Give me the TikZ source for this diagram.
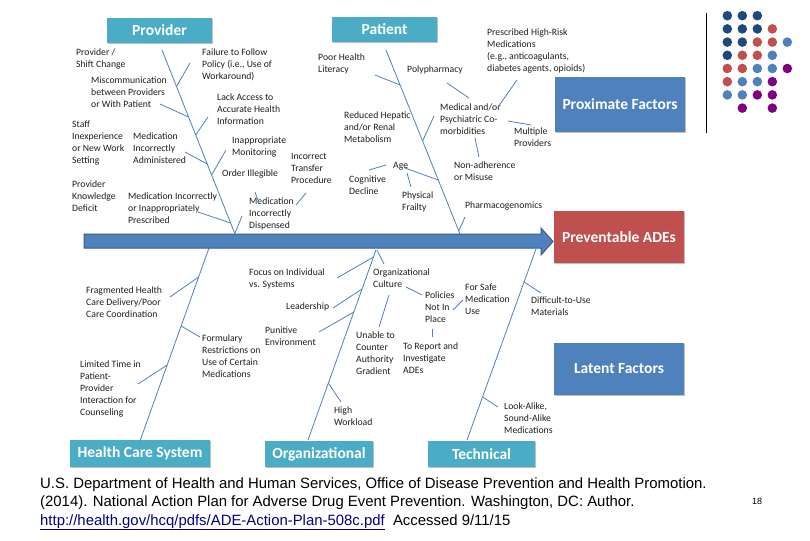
\documentclass[tikz,border=0pt]{standalone}
\usepackage{fontspec}
\setmainfont{Carlito}
\newfontfamily\footfont{Liberation Sans}
\usetikzlibrary{shadows}
\definecolor{teal1}{RGB}{75,172,198}
\definecolor{blue1}{RGB}{79,129,189}
\definecolor{red1}{RGB}{192,80,77}
\definecolor{dblue}{RGB}{31,73,125}
\definecolor{purp}{RGB}{128,0,128}
\definecolor{arrowline}{RGB}{56,93,138}
\definecolor{linkblue}{RGB}{0,0,128}
\definecolor{txt}{RGB}{30,30,30}
\begin{document}
\begin{tikzpicture}[x=1pt,y=-1pt,
 lbl/.style={anchor=north west, inner sep=0pt, align=left, font=\fontsize{9.7}{11.8}\selectfont, text=txt},
 bone/.style={draw=blue1, line width=0.8pt},
 titlebox/.style={inner sep=0pt, text=white, font=\bfseries\fontsize{15.5}{18}\selectfont,
   drop shadow={shadow xshift=1.2pt, shadow yshift=-1.2pt, fill=black, opacity=0.25}},
 foot/.style={anchor=base west, inner sep=0pt, font=\footfont\fontsize{14.9}{18}\selectfont, text=black}
]
\fill[white] (0,0) rectangle (810,540);
\useasboundingbox (0,0) rectangle (810,540);

% title boxes
\node[titlebox, fill=teal1, minimum width=105pt, minimum height=25pt] (provider) at (159.5,30.5) {Provider};
\node[titlebox, fill=teal1, minimum width=105pt, minimum height=25pt] (patient) at (384.5,29.5) {Patient};
\node[titlebox, fill=blue1, minimum width=130pt, minimum height=55pt] (proximate) at (620,104.5) {Proximate Factors};
\node[titlebox, fill=red1, minimum width=130pt, minimum height=52pt] (ades) at (619,237) {Preventable ADEs};
\node[titlebox, fill=blue1, minimum width=130pt, minimum height=52pt] (latent) at (619,369) {Latent Factors};
\node[titlebox, fill=teal1, minimum width=140pt, minimum height=27pt] (hcs) at (140,453.5) {Health Care System};
\node[titlebox, fill=teal1, minimum width=108pt, minimum height=26pt] (org) at (319,454) {Organizational};
\node[titlebox, fill=teal1, minimum width=107pt, minimum height=26pt] (tech) at (481.5,454) {Technical};

% labels - provider
\node[lbl] (p1) at (76,49) {Provider /\\Shift Change};
\node[lbl] (p2) at (202,49) {Failure to Follow\\Policy (i.e., Use of\\Workaround)};
\node[lbl] (p3) at (91,77) {Miscommunication\\between Providers\\or With Patient};
\node[lbl] (p4) at (217,94) {Lack Access to\\Accurate Health\\Information};
\node[lbl] (p5) at (72,121) {Staff\\Inexperience\\or New Work\\Setting};
\node[lbl] (p6) at (133,133) {Medication\\Incorrectly\\Administered};
\node[lbl] (p7) at (232,137) {Inappropriate\\Monitoring};
\node[lbl] (p8) at (291,153) {Incorrect\\Transfer\\Procedure};
\node[lbl] (p9) at (222,170) {Order Illegible};
\node[lbl] (p10) at (72,181) {Provider\\Knowledge\\Deficit};
\node[lbl] (p11) at (128,193) {Medication Incorrectly\\or Inappropriately\\Prescribed};
\node[lbl] (p12) at (249,198) {Medication\\Incorrectly\\Dispensed};
% labels - patient
\node[lbl] (q1) at (318,54) {Poor Health\\Literacy};
\node[lbl] (q2) at (407,66) {Polypharmacy};
\node[lbl] (q3) at (487,29) {Prescribed High-Risk\\Medications\\(e.g., anticoagulants,\\diabetes agents, opioids)};
\node[lbl] (q4) at (440,104) {Medical and/or\\Psychiatric Co-\\morbidities};
\node[lbl] (q5) at (514,128) {Multiple\\Providers};
\node[lbl] (q6) at (344,112) {Reduced Hepatic\\and/or Renal\\Metabolism};
\node[lbl] (q7) at (393,162) {Age};
\node[lbl] (q8) at (454,162) {Non-adherence\\or Misuse};
\node[lbl] (q9) at (349,176) {Cognitive\\Decline};
\node[lbl] (q10) at (402,192) {Physical\\Frailty};
\node[lbl] (q11) at (465,202) {Pharmacogenomics};
% labels - bottom
\node[lbl] (h1) at (86,287) {Fragmented Health\\Care Delivery/Poor\\Care Coordination};
\node[lbl] (h2) at (202,335) {Formulary\\Restrictions on\\Use of Certain\\Medications};
\node[lbl] (h3) at (80,361) {Limited Time in\\Patient-\\Provider\\Interaction for\\Counseling};
\node[lbl] (o1) at (249,269) {Focus on Individual\\vs. Systems};
\node[lbl] (o2) at (286,303) {Leadership};
\node[lbl] (o3) at (265,327) {Punitive\\Environment};
\node[lbl] (o4) at (373,269) {Organizational\\Culture};
\node[lbl] (o5) at (425,292) {Policies\\Not In\\Place};
\node[lbl] (o6) at (465,284) {For Safe\\Medication\\Use};
\node[lbl] (o7) at (356,332) {Unable to\\Counter\\Authority\\Gradient};
\node[lbl] (o8) at (403,343) {To Report and\\Investigate\\ADEs};
\node[lbl] (o9) at (334,407) {High\\Workload};
\node[lbl] (t1) at (531,297) {Difficult-to-Use\\Materials};
\node[lbl] (t2) at (504,403) {Look-Alike,\\Sound-Alike\\Medications};

% bones
\coordinate (PvT) at (162,50); \coordinate (PvB) at (235,234);
\coordinate (PaT) at (386,50); \coordinate (PaB) at (460,234);
\coordinate (HcT) at (209,248); \coordinate (HcB) at (140,441);
\coordinate (OrT) at (376,250); \coordinate (OrB) at (308,440);
\coordinate (TeT) at (536,249); \coordinate (TeB) at (467,440);
\draw[bone] (PvT) -- (PvB);
\draw[bone] (PaT) -- (PaB);
\draw[bone] (HcT) -- (HcB);
\draw[bone] (OrT) -- (OrB);
\draw[bone] (TeT) -- (TeB);

% branches - provider
\coordinate (b1a) at (176.5,86.5); \coordinate (b1b) at (190,63);
\coordinate (b2a) at (160,104); \coordinate (b2b) at (188.6,117);
\coordinate (b3a) at (195.7,135); \coordinate (b3b) at (208,117);
\coordinate (b4a) at (185,152); \coordinate (b4b) at (207.3,164);
\coordinate (b5a) at (211.6,175); \coordinate (b5b) at (226,150);
\coordinate (b6a) at (198,212); \coordinate (b6b) at (230.7,223);
\coordinate (b7a) at (235,233); \coordinate (b7b) at (242,216);
\coordinate (b8a) at (255,192); \coordinate (b8b) at (259,203);
\coordinate (b9a) at (296,205); \coordinate (b9b) at (306,193);
\foreach \n in {b1,b2,b3,b4,b5,b6,b7,b8,b9} \draw[bone] (\n a) -- (\n b);
% branches - patient
\coordinate (c1a) at (375,75); \coordinate (c1b) at (400.1,85);
\coordinate (c2a) at (447,83); \coordinate (c2b) at (469,98);
\coordinate (c3a) at (498,107); \coordinate (c3b) at (517,80);
\coordinate (c4a) at (508,121); \coordinate (c4b) at (531,125);
\coordinate (c5a) at (422.6,141); \coordinate (c5b) at (434,116);
\coordinate (c6a) at (475,138); \coordinate (c6b) at (479,157);
\coordinate (c7a) at (405,168); \coordinate (c7b) at (438.2,180);
\coordinate (c8a) at (369,170); \coordinate (c8b) at (386,165);
\coordinate (c9a) at (407,173); \coordinate (c9b) at (411,187);
\coordinate (c10a) at (458.8,231); \coordinate (c10b) at (465,217);
\foreach \n in {c1,c2,c3,c4,c5,c6,c7,c8,c9,c10} \draw[bone] (\n a) -- (\n b);
% branches - health care system
\coordinate (d1a) at (170,297); \coordinate (d1b) at (198.6,277);
\coordinate (d2a) at (181.1,326); \coordinate (d2b) at (200,337);
\coordinate (d3a) at (138,384); \coordinate (d3b) at (167.2,365);
\foreach \n in {d1,d2,d3} \draw[bone] (\n a) -- (\n b);
% branches - organizational
\coordinate (e1a) at (337,278); \coordinate (e1b) at (373.5,257);
\coordinate (e2a) at (333,308); \coordinate (e2b) at (362,289);
\coordinate (e3a) at (319,332); \coordinate (e3b) at (353.8,312);
\coordinate (e4a) at (328.3,383); \coordinate (e4b) at (341,402);
\coordinate (e5a) at (377,250); \coordinate (e5b) at (384,264);
\coordinate (e6a) at (389,295); \coordinate (e6b) at (379,327);
\coordinate (e7a) at (406,287); \coordinate (e7b) at (422,295);
\coordinate (e8a) at (453,310); \coordinate (e8b) at (463,300);
\coordinate (e9a) at (432,329); \coordinate (e9b) at (432,337);
\foreach \n in {e1,e2,e3,e4,e5,e6,e7,e8,e9} \draw[bone] (\n a) -- (\n b);
% branches - technical
\coordinate (f1a) at (524.1,282); \coordinate (f1b) at (541,293);
\coordinate (f2a) at (482.6,397); \coordinate (f2b) at (498,407);
\foreach \n in {f1,f2} \draw[bone] (\n a) -- (\n b);

% main arrow
\fill[blue1, draw=arrowline, line width=1pt]
  (84,234) -- (541,234) -- (541,228) -- (553,241.5) -- (541,255) -- (541,248) -- (84,248) -- cycle;

% separator line and dots
\coordinate (sepT) at (706,13); \coordinate (sepB) at (706,133);
\draw[black, line width=1pt] (sepT) -- (sepB);
\foreach \c [count=\i] in {dblue,dblue,dblue} \fill[\c] ({712.3+15*\i},15.7) circle (4.8pt);
\foreach \c [count=\i] in {dblue,dblue,dblue,red1} \fill[\c] ({712.3+15*\i},28.9) circle (4.8pt);
\foreach \c [count=\i] in {dblue,dblue,red1,red1,blue1} \fill[\c] ({712.3+15*\i},42.1) circle (4.8pt);
\foreach \c [count=\i] in {dblue,red1,red1,blue1} \fill[\c] ({712.3+15*\i},55.3) circle (4.8pt);
\foreach \c [count=\i] in {red1,red1,blue1,blue1,purp} \fill[\c] ({712.3+15*\i},68.5) circle (4.8pt);
\foreach \c [count=\i] in {red1,blue1,blue1,purp} \fill[\c] ({712.3+15*\i},81.7) circle (4.8pt);
\foreach \c [count=\i] in {blue1,blue1,purp,purp} \fill[\c] ({712.3+15*\i},94.9) circle (4.8pt);
\fill[purp] (742.3,108.1) circle (4.8pt);
\fill[purp] (772.3,108.1) circle (4.8pt);

% footer
\node[foot] (ref1) at (40,488) {U.S. Department of Health and Human Services, Office of Disease Prevention and Health Promotion.};
\node[foot] (ref2) at (40,506.5) {(2014). National Action Plan for Adverse Drug Event Prevention. Washington, DC: Author.};
\node[foot] (ref3) at (40,525) {\textcolor{linkblue}{\underline{http://health.gov/hcq/pdfs/ADE-Action-Plan-508c.pdf}}\ \ Accessed 9/11/15};
\node[anchor=west, inner sep=0pt, font=\footfont\fontsize{9}{10}\selectfont] (pg) at (752,501) {18};
\end{tikzpicture}
\end{document}
